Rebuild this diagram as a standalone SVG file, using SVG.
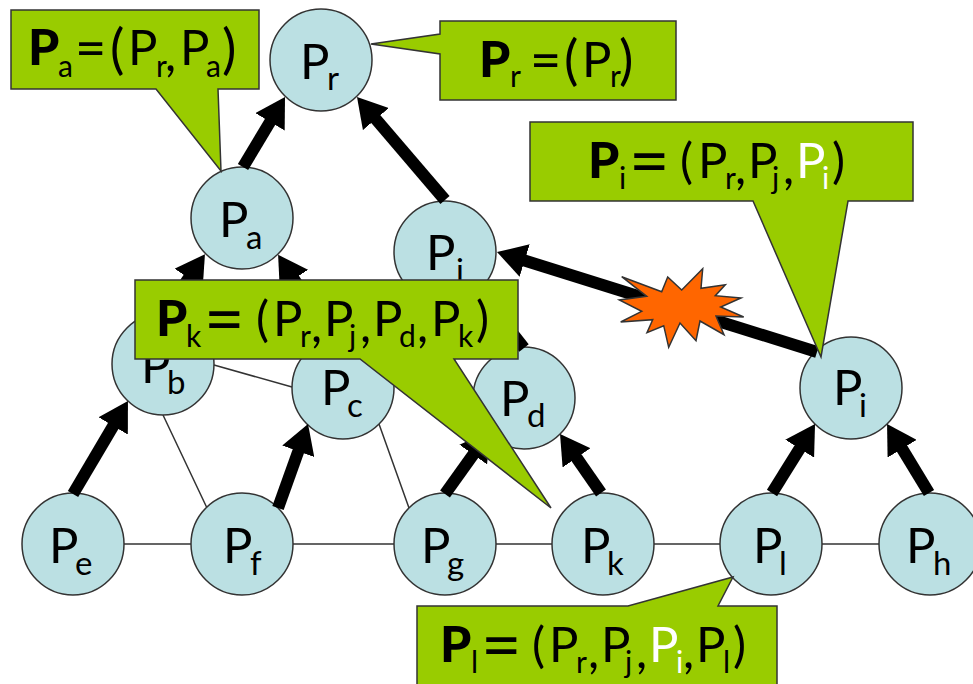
<svg xmlns="http://www.w3.org/2000/svg" width="973" height="684" viewBox="0 0 973 684">
<style>
text{font-family:"Lato","Noto Sans",sans-serif;font-size:49px;fill:#000}
.sub{font-size:30px}
.nsub{font-size:33px}
.b{font-weight:900;font-size:50px}
.eq{font-size:54px}
.eql{font-size:70px}
.pn{font-size:54px}
.w{fill:#fff}
.n{fill:#BBE0E3;stroke:#333;stroke-width:1.5}
.c{fill:#99CC00;stroke:#333;stroke-width:1.5;stroke-linejoin:miter}
.t{stroke:#333;stroke-width:1.5;fill:none}
.a{stroke:#000;stroke-width:12;fill:none;marker-end:url(#h)}
.s{fill:#FF6600;stroke:#333;stroke-width:1.5}
</style>
<defs>
<marker id="h" markerUnits="userSpaceOnUse" markerWidth="30" markerHeight="34" viewBox="0 0 30 34" refX="1" refY="17" orient="auto"><path d="M0,0L29,17L0,34Z" fill="#000"/></marker>
</defs>
<g id="thin-connectors">
<path class="t" d="M124,544H191M293,544H394M496,544H552M654,544H720M822,544H879M214,365L292,387M163,415L207,508M379,424L409,508"/>
</g>
<g id="node-r"><circle class="n" cx="321" cy="60" r="51"/><text x="300" y="79">P<tspan class="nsub" x="327" y="90">r</tspan></text></g>
<g id="node-a"><circle class="n" cx="242" cy="218" r="51"/><text x="219" y="237">P<tspan class="nsub" x="246" y="249">a</tspan></text></g>
<g id="node-j"><circle class="n" cx="445" cy="252" r="51"/><text x="426" y="270">P<tspan class="nsub" x="456" y="282">j</tspan></text></g>
<g id="node-b"><circle class="n" cx="163" cy="364" r="51"/><text x="141" y="383">P<tspan class="nsub" x="167" y="394">b</tspan></text></g>
<g id="node-c"><circle class="n" cx="343" cy="388" r="51"/><text x="321" y="405">P<tspan class="nsub" x="347" y="417">c</tspan></text></g>
<g id="node-d"><circle class="n" cx="524" cy="398" r="51"/><text x="500" y="416">P<tspan class="nsub" x="527" y="427">d</tspan></text></g>
<g id="node-i"><circle class="n" cx="851" cy="388" r="51"/><text x="833" y="405">P<tspan class="nsub" x="859" y="417">i</tspan></text></g>
<g id="node-e"><circle class="n" cx="73" cy="544" r="51"/><text x="49" y="563">P<tspan class="nsub" x="75" y="575">e</tspan></text></g>
<g id="node-f"><circle class="n" cx="242" cy="544" r="51"/><text x="223" y="563">P<tspan class="nsub" x="250" y="575">f</tspan></text></g>
<g id="node-g"><circle class="n" cx="445" cy="544" r="51"/><text x="421" y="563">P<tspan class="nsub" x="447" y="575">g</tspan></text></g>
<g id="node-k"><circle class="n" cx="603" cy="544" r="51"/><text x="581" y="563">P<tspan class="nsub" x="607" y="575">k</tspan></text></g>
<g id="node-l"><circle class="n" cx="771" cy="544" r="51"/><text x="753" y="563">P<tspan class="nsub" x="779" y="575">l</tspan></text></g>
<g id="node-h"><circle class="n" cx="930" cy="544" r="51"/><text x="906" y="563">P<tspan class="nsub" x="933" y="575">h</tspan></text></g>
<g id="arrows">
<path class="a" d="M243,167L270.6,121"/>
<path class="a" d="M445,200L375.2,118.3"/>
<path class="a" d="M165,313L189.2,277.4"/>
<path class="a" d="M320,319L293.4,278.2"/>
<path class="a" d="M524,348L496.4,313"/>
<path class="a" d="M817,352L523.7,260.3"/>
<path class="a" d="M73,494L113.7,425.1"/>
<path class="a" d="M278,508L298.6,450.4"/>
<path class="a" d="M445,494L473.8,453.7"/>
<path class="a" d="M601,493L576,457"/>
<path class="a" d="M772,493L800.2,447.8"/>
<path class="a" d="M929,493L901.6,447.9"/>
</g>
<g id="burst"><polygon class="s" points="621.7,276.7 661.7,291.7 667.7,277 681.7,290 702.7,268.7 701,288.3 725.3,284.7 715.3,295.7 741,298 720.7,307 743.7,317 716,316 724,334.7 700,321 696,340.7 680,323 668.7,347.3 663.7,325.7 647,332.7 652.7,319.7 620.7,322 641.7,311.3 619.3,300 646.7,296.3"/></g>
<g id="callout-a"><path class="c" d="M11,10H259V89H218L221,171L156,89H11Z"/>
<text x="28" y="65"><tspan class="b">P</tspan><tspan class="sub" x="58" y="77">a</tspan><tspan class="eq" x="75" y="67">=</tspan><tspan class="pn" x="110" y="68">(</tspan><tspan x="128" y="65">P</tspan><tspan class="sub" x="156" y="77">r</tspan><tspan x="165" y="71">,</tspan><tspan x="180" y="65">P</tspan><tspan class="sub" x="206" y="77">a</tspan><tspan class="pn" x="222" y="68">)</tspan></text></g>
<g id="callout-r"><path class="c" d="M440,21H676V100H440V54L371,44L440,34Z"/>
<text x="479" y="77"><tspan class="b">P</tspan><tspan class="sub" x="510" y="87">r</tspan><tspan class="eq" x="530" y="79">=</tspan><tspan class="pn" x="564" y="79">(</tspan><tspan x="582" y="77">P</tspan><tspan class="sub" x="610" y="87">r</tspan><tspan class="pn" x="619" y="79">)</tspan></text></g>
<g id="callout-i"><path class="c" d="M530,122H913V201H848L821,357L753,201H530Z"/>
<text x="588" y="178"><tspan class="b">P</tspan><tspan class="sub" x="619" y="189">i</tspan><tspan class="eql" x="629" y="185">=</tspan><tspan x="680" y="178">(</tspan><tspan x="698">P</tspan><tspan class="sub" x="725" y="189">r</tspan><tspan x="735" y="184">,</tspan><tspan x="748" y="178">P</tspan><tspan class="sub" x="772" y="189">j</tspan><tspan x="783" y="184">,</tspan><tspan class="w" x="796" y="178">P</tspan><tspan class="sub w" x="822" y="189">i</tspan><tspan x="832" y="178">)</tspan></text></g>
<g id="callout-k"><path class="c" d="M135,280H518V359H454L551,508L360,359H135Z"/>
<text x="156" y="336"><tspan class="b">P</tspan><tspan class="sub" x="186" y="347">k</tspan><tspan class="eql" x="204" y="343">=</tspan><tspan x="256" y="336">(</tspan><tspan x="273">P</tspan><tspan class="sub" x="300" y="347">r</tspan><tspan x="311" y="342">,</tspan><tspan x="324" y="336">P</tspan><tspan class="sub" x="349" y="347">j</tspan><tspan x="360" y="342">,</tspan><tspan x="373" y="336">P</tspan><tspan class="sub" x="399" y="347">d</tspan><tspan x="417" y="342">,</tspan><tspan x="431" y="336">P</tspan><tspan class="sub" x="458" y="347">k</tspan><tspan x="476" y="336">)</tspan></text></g>
<g id="callout-l"><path class="c" d="M417,606H628L733,577L718,606H777V690H417Z"/>
<text x="440" y="662"><tspan class="b">P</tspan><tspan class="sub" x="471" y="673">l</tspan><tspan class="eql" x="481" y="669">=</tspan><tspan x="532" y="662">(</tspan><tspan x="549">P</tspan><tspan class="sub" x="576" y="673">r</tspan><tspan x="588" y="668">,</tspan><tspan x="601" y="662">P</tspan><tspan class="sub" x="625" y="673">j</tspan><tspan x="636" y="668">,</tspan><tspan class="w" x="649" y="662">P</tspan><tspan class="sub w" x="676" y="673">i</tspan><tspan x="683" y="668">,</tspan><tspan x="696" y="662">P</tspan><tspan class="sub" x="723" y="673">l</tspan><tspan x="733" y="662">)</tspan></text></g>
</svg>
